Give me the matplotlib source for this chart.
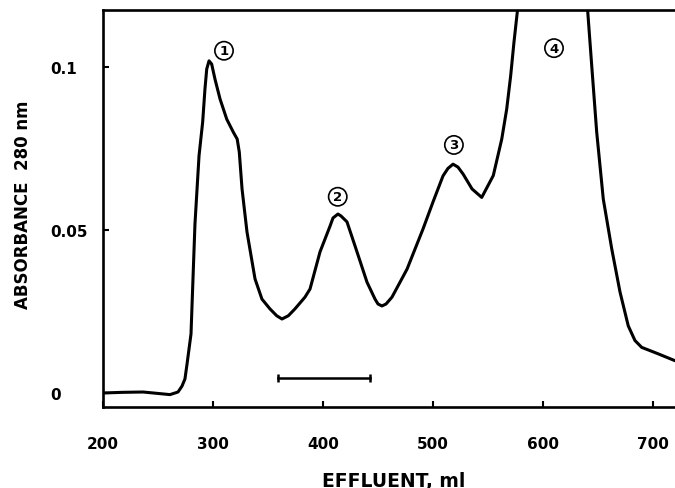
import matplotlib.pyplot as plt

# elution profile
effluent_ml = [200, 218, 236.4, 251.8, 260.9, 268.2, 271.8, 274.5, 276.4, 278.2,
               280, 281.8, 283.6, 287.3, 290.6, 292.7, 294.3, 296.4, 298.8, 301.8,
               306.4, 312.5, 318.5, 322, 323.9, 326.4, 330.9, 338.2, 344.5, 351.8,
               357.9, 362.7, 368.5, 374.5, 383.6, 388.2, 397.3, 406.4, 409.1, 413.6,
               416.4, 421.8, 430.9, 440, 447.3, 450, 453.6, 457.3, 462.7, 476.4,
               490.9, 500, 509.1, 513.6, 518.2, 522.7, 527.3, 535.5, 544.3, 554.8,
               562.5, 567, 570.6, 573.6, 576.6, 580, 586, 598, 615, 628,
               636, 640.6, 644.3, 648.8, 654.8, 662.5, 670, 677.5, 683.6, 689.7,
               704.8, 720]
absorbance = [0.0, 0.0002, 0.0003, -0.0002, -0.0005, 0.0003, 0.0021, 0.0043, 0.0089, 0.0135,
              0.0181, 0.035, 0.0518, 0.0728, 0.0831, 0.0933, 0.0994, 0.1019, 0.1009, 0.0963,
              0.0902, 0.084, 0.08, 0.0779, 0.0739, 0.0626, 0.0494, 0.035, 0.0288, 0.0258,
              0.0237, 0.0227, 0.0237, 0.0258, 0.0294, 0.0319, 0.0433, 0.0512, 0.0537, 0.0549,
              0.0543, 0.0525, 0.0433, 0.034, 0.0288, 0.0273, 0.0267, 0.0273, 0.0294, 0.038,
              0.0503, 0.0586, 0.0666, 0.0689, 0.0702, 0.0693, 0.0672, 0.0626, 0.060, 0.0667,
              0.0779, 0.0871, 0.0973, 0.1076, 0.1168, 0.128, 0.142, 0.158, 0.162, 0.152,
              0.136, 0.1173, 0.1004, 0.0801, 0.0595, 0.0442, 0.031, 0.0206, 0.0161, 0.014,
              0.012, 0.0099]

# pooled fraction bar
pool_ml = [359, 443]
pool_level = [0.0046, 0.0046]

# peak numbers
peak_labels = ["1", "2", "3", "4"]
peak_x = [310, 413.4, 519, 610]
peak_y = [0.105, 0.0602, 0.0761, 0.1058]

x_ticks = [200, 300, 400, 500, 600, 700]
y_ticks = [0, 0.05, 0.1]
y_ticklabels = ["0", "0.05", "0.1"]

plt.rcParams["font.family"] = ["DejaVu Sans"]
plt.rcParams["font.weight"] = "bold"

fig = plt.figure(figsize=(6.75, 4.89), dpi=100)
ax = fig.add_axes([103 / 675, 81 / 489, 572 / 675, 397 / 489])

ax.plot(effluent_ml, absorbance, color="black", lw=2.2,
        solid_joinstyle="round", solid_capstyle="round")
ax.plot(pool_ml, pool_level, color="black", lw=1.8, marker="|", ms=6, mew=1.8)

for lab, px, py in zip(peak_labels, peak_x, peak_y):
    ax.text(px, py, lab, ha="center", va="center", fontsize=9.5, fontweight="bold",
            bbox=dict(boxstyle="circle,pad=0.2", fc="white", ec="black", lw=1.2))

ax.set_xlim(200, 720)
ax.set_ylim(-0.0043, 0.1175)

ax.spines["right"].set_visible(False)
for side in ["left", "bottom", "top"]:
    ax.spines[side].set_linewidth(1.9)

ax.set_xticks(x_ticks)
ax.set_xticklabels([str(t) for t in x_ticks], fontsize=11, fontweight="bold")
ax.set_yticks(y_ticks)
ax.set_yticklabels(y_ticklabels, fontsize=11, fontweight="bold")
ax.tick_params(axis="x", direction="in", length=4, width=1.5, pad=21)
ax.tick_params(axis="y", direction="in", length=4, width=1.5, pad=38)
for lab in ax.get_yticklabels():
    lab.set_horizontalalignment("left")

ax.set_xlabel("EFFLUENT, ml", fontsize=13.5, fontweight="bold")
ax.xaxis.set_label_coords(0.509, -0.184)
ax.xaxis.label.set_va("center")
ax.set_ylabel("ABSORBANCE  280 nm", fontsize=12, fontweight="bold")
ax.yaxis.set_label_coords(-0.14, 0.511)
ax.yaxis.label.set_va("center")

fig.savefig("out.png", dpi=100)
